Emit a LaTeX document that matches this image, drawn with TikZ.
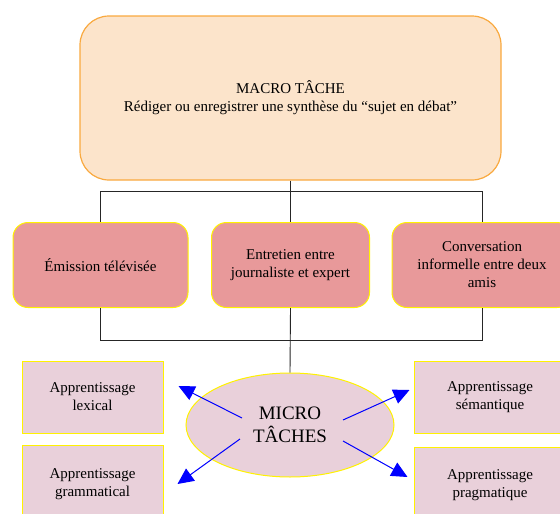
\documentclass[tikz,border=0pt]{standalone}
\usepackage{fontspec}
\setmainfont{Liberation Serif}
\usetikzlibrary{shapes.geometric,arrows.meta}

\begin{document}
\begin{tikzpicture}[x=1pt,y=-1pt]
  % Colors
  \definecolor{macrofill}{HTML}{FCE4CB}
  \definecolor{macroline}{HTML}{F9A93F}
  \definecolor{taskfill}{HTML}{E8999A}
  \definecolor{microfill}{HTML}{E9D0DA}
  \definecolor{boxline}{HTML}{FFF200}
  \colorlet{arrowblue}{blue}

  % Styles
  \tikzstyle{normal text}=[font=\fontsize{15}{18}\selectfont,align=center,inner sep=0pt]
  \tikzstyle{macro box}=[normal text,rounded corners=29pt,fill=macrofill,draw=macroline,line width=1.2pt]
  \tikzstyle{task box}=[normal text,rounded corners=15pt,fill=taskfill,draw=boxline,line width=1pt,minimum height=85pt]
  \tikzstyle{learn box}=[normal text,fill=microfill,draw=boxline,line width=1pt]
  \tikzstyle{link}=[draw=black!85,line width=0.9pt]
  \tikzstyle{micro arrow}=[draw=arrowblue,line width=1pt,-{Triangle[length=16pt,width=15pt]}]

  \useasboundingbox (0,0) rectangle (560,514);

  % Macro task
  \node[macro box,minimum width=421pt,minimum height=164pt] (macro) at (290.5,98)
    {MACRO TÂCHE\\Rédiger ou enregistrer une synthèse du “sujet en débat”};

  % Three situations
  \node[task box,minimum width=175pt] (emission) at (100.5,265) {Émission télévisée};
  \node[task box,minimum width=158pt] (entretien) at (290.5,265) {Entretien entre\\journaliste et expert};
  \node[task box,minimum width=180pt] (conversation) at (482,265) {Conversation\\informelle entre deux\\amis};

  % Micro tasks
  \node[ellipse,fill=microfill,draw=boxline,line width=1pt,inner sep=0pt,
        minimum width=208pt,minimum height=104pt,align=center,
        font=\fontsize{19}{22.5}\selectfont] (micro) at (290,425) {MICRO\\TÂCHES};

  \node[learn box,minimum width=141pt,minimum height=72pt] (lexical) at (92.5,397) {Apprentissage\\lexical};
  \node[learn box,minimum width=141pt,minimum height=78pt] (grammatical) at (92.5,484) {Apprentissage\\grammatical};
  \node[learn box,minimum width=152pt,minimum height=72pt] (semantique) at (490,397) {Apprentissage\\sémantique};
  \node[learn box,minimum width=152pt,minimum height=76pt] (pragmatique) at (490,485) {Apprentissage\\pragmatique};

  % Connectors
  \draw[link] (macro.south) -- (entretien.north);
  \draw[link] (emission.north) -- ++(0,-31) -| (conversation.north);
  \draw[link] (emission.south) -- ++(0,32) -| (conversation.south);
  \draw[link] (entretien.south) -- (micro.north);

  \draw[micro arrow] ([xshift=-48pt,yshift=7pt]micro.center) -- ([xshift=15pt,yshift=11pt]lexical.east);
  \draw[micro arrow] ([xshift=-50pt,yshift=-14pt]micro.center) -- ([xshift=14pt]grammatical.east);
  \draw[micro arrow] ([xshift=53pt,yshift=5pt]micro.center) -- ([xshift=-4pt,yshift=7pt]semantique.west);
  \draw[micro arrow] ([xshift=53pt,yshift=-16pt]micro.center) -- ([xshift=-6pt,yshift=8pt]pragmatique.west);
\end{tikzpicture}
\end{document}
